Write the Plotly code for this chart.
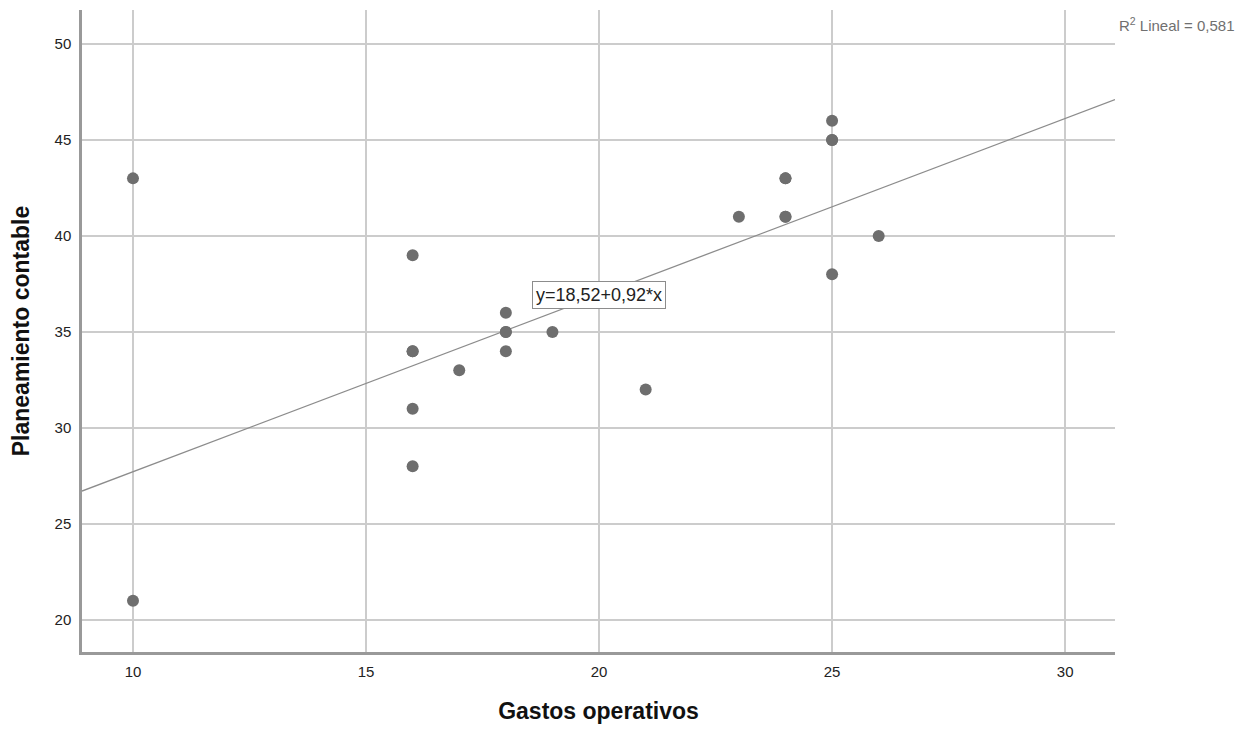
import plotly.graph_objects as go

# Data
gastos_operativos = [10, 10, 16, 16, 16, 16, 16, 17, 18, 18, 18, 18, 19, 21, 23, 24, 24, 24, 24, 25, 25, 25, 25, 26]
planeamiento_contable = [43, 21, 39, 34, 34, 31, 28, 33, 36, 35, 35, 34, 35, 32, 41, 43, 43, 41, 41, 46, 45, 45, 38, 40]
fit_intercept = 18.52
fit_slope = 0.92
r2_value = "0,581"
x_ticks = [10, 15, 20, 25, 30]
y_ticks = [20, 25, 30, 35, 40, 45, 50]

x_range = [8.906, 31.07]
y_range = [18.33, 51.77]

fit_x = x_range
fit_y = [fit_intercept + fit_slope * v for v in fit_x]

FONT = "Liberation Sans, Arial, sans-serif"

fig = go.Figure()
fig.add_trace(go.Scatter(
    x=fit_x, y=fit_y, mode="lines",
    line=dict(color="#8c8c8c", width=1.3),
    hoverinfo="skip", showlegend=False,
))
fig.add_trace(go.Scatter(
    x=gastos_operativos, y=planeamiento_contable, mode="markers",
    marker=dict(color="#6e6e6e", size=12, line=dict(width=0)),
    showlegend=False,
))

fig.add_annotation(
    x=20, y=36.93, xref="x", yref="y",
    text="y=18,52+0,92*x", showarrow=False,
    font=dict(family=FONT, size=18, color="#222222"),
    bgcolor="white", bordercolor="#8c8c8c", borderwidth=1, borderpad=3,
)

# plot area in figure pixels: left 74, right 1107, top 2, bottom 644
fig.add_annotation(
    x=(1117 - 82) / (1115 - 82), y=(652 - 24) / (652 - 10),
    xref="paper", yref="paper", xanchor="left", yanchor="middle",
    text="R<sup>2</sup> Lineal = " + r2_value, showarrow=False,
    font=dict(family=FONT, size=15, color="#707070"),
)

fig.update_layout(
    width=1250, height=723,
    margin=dict(l=74, r=143, t=2, b=79),
    paper_bgcolor="white", plot_bgcolor="white",
    font=dict(family=FONT, size=15, color="#222222"),
    xaxis=dict(
        range=x_range, tickvals=x_ticks, ticktext=[str(v) for v in x_ticks],
        showgrid=True, gridcolor="#cccccc", gridwidth=1.8,
        zeroline=False, showline=True, linecolor="#999999", linewidth=2.5,
        ticks="", ticklabelstandoff=4,
        title=dict(text="<b>Gastos operativos</b>", font=dict(family=FONT, size=23, color="#111111"), standoff=25),
    ),
    yaxis=dict(
        range=y_range, tickvals=y_ticks, ticktext=[str(v) for v in y_ticks],
        showgrid=True, gridcolor="#cccccc", gridwidth=1.8,
        zeroline=False, showline=True, linecolor="#999999", linewidth=2.5,
        ticks="", ticklabelstandoff=5,
        title=dict(text="<b>Planeamiento contable</b>", font=dict(family=FONT, size=23, color="#111111"), standoff=23),
    ),
)

fig.write_html("out.html")
